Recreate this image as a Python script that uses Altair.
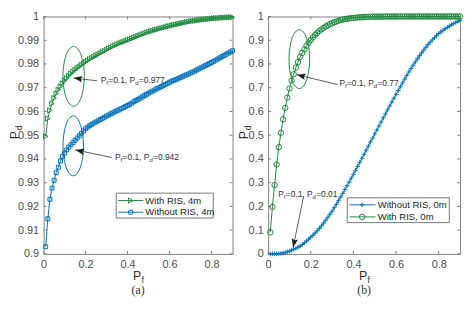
import math
import altair as alt
import pandas as pd

# ---------------- data ----------------
PF = [0.01, 0.02, 0.03, 0.04, 0.05, 0.06, 0.07, 0.08, 0.09, 0.10,
      0.11, 0.12, 0.13, 0.14, 0.15, 0.16, 0.17, 0.18, 0.19, 0.20,
      0.21, 0.22, 0.23, 0.24, 0.25, 0.26, 0.27, 0.28, 0.29, 0.30,
      0.31, 0.32, 0.33, 0.34, 0.35, 0.36, 0.37, 0.38, 0.39, 0.40,
      0.41, 0.42, 0.43, 0.44, 0.45, 0.46, 0.47, 0.48, 0.49, 0.50,
      0.51, 0.52, 0.53, 0.54, 0.55, 0.56, 0.57, 0.58, 0.59, 0.60,
      0.61, 0.62, 0.63, 0.64, 0.65, 0.66, 0.67, 0.68, 0.69, 0.70,
      0.71, 0.72, 0.73, 0.74, 0.75, 0.76, 0.77, 0.78, 0.79, 0.80,
      0.81, 0.82, 0.83, 0.84, 0.85, 0.86, 0.87, 0.88, 0.89, 0.90]

# (a) With RIS, 4m
A_WITH = [0.9495, 0.9570, 0.9605, 0.9633, 0.9656, 0.9675, 0.9691, 0.9705, 0.9718, 0.9730,
          0.9740, 0.9750, 0.9759, 0.9767, 0.9775, 0.9782, 0.9789, 0.9796, 0.9802, 0.9808,
          0.9814, 0.9820, 0.9825, 0.9830, 0.9835, 0.9840, 0.9845, 0.9850, 0.9855, 0.9860,
          0.9865, 0.9869, 0.9874, 0.9878, 0.9882, 0.9886, 0.9890, 0.9893, 0.9897, 0.9900,
          0.9904, 0.9907, 0.9911, 0.9914, 0.9918, 0.9921, 0.9925, 0.9928, 0.9932, 0.9935,
          0.9938, 0.9940, 0.9943, 0.9945, 0.9948, 0.9950, 0.9953, 0.9955, 0.9958, 0.9960,
          0.9962, 0.9964, 0.9966, 0.9968, 0.9970, 0.9972, 0.9974, 0.9976, 0.9978, 0.9980,
          0.9981, 0.9982, 0.9983, 0.9985, 0.9986, 0.9987, 0.9988, 0.9989, 0.9990, 0.9991,
          0.9992, 0.9993, 0.9993, 0.9994, 0.9995, 0.9995, 0.9996, 0.9996, 0.9997, 0.9997]

# (a) Without RIS, 4m
A_WITHOUT = [0.9030, 0.9148, 0.9230, 0.9277, 0.9310, 0.9342, 0.9365, 0.9391, 0.9410, 0.9425,
             0.9438, 0.9450, 0.9460, 0.9469, 0.9478, 0.9488, 0.9498, 0.9508, 0.9518, 0.9527,
             0.9534, 0.9540, 0.9546, 0.9551, 0.9556, 0.9561, 0.9566, 0.9571, 0.9576, 0.9581,
             0.9585, 0.9590, 0.9594, 0.9599, 0.9603, 0.9607, 0.9612, 0.9616, 0.9621, 0.9625,
             0.9630, 0.9635, 0.9641, 0.9646, 0.9651, 0.9656, 0.9661, 0.9667, 0.9672, 0.9677,
             0.9682, 0.9686, 0.9691, 0.9696, 0.9700, 0.9705, 0.9709, 0.9714, 0.9718, 0.9723,
             0.9727, 0.9731, 0.9734, 0.9738, 0.9742, 0.9746, 0.9750, 0.9754, 0.9758, 0.9762,
             0.9766, 0.9770, 0.9775, 0.9779, 0.9784, 0.9788, 0.9793, 0.9797, 0.9802, 0.9806,
             0.9811, 0.9816, 0.9821, 0.9826, 0.9831, 0.9836, 0.9841, 0.9846, 0.9851, 0.9856]

# (b) With RIS, 0m
B_WITH = [0.091, 0.198, 0.290, 0.377, 0.450, 0.510, 0.567, 0.615, 0.658, 0.697,
          0.730, 0.757, 0.785, 0.808, 0.830, 0.847, 0.862, 0.877, 0.890, 0.901,
          0.912, 0.922, 0.931, 0.939, 0.946, 0.952, 0.958, 0.963, 0.968, 0.972,
          0.976, 0.979, 0.982, 0.985, 0.987, 0.989, 0.990, 0.992, 0.993, 0.994,
          0.995, 0.996, 0.9965, 0.997, 0.9975, 0.998, 0.9985, 0.9988, 0.999, 0.9992,
          0.9994, 0.9995, 0.9996, 0.9997, 0.9997, 0.9998, 0.9998, 0.9998, 0.9999, 0.9999,
          0.9999, 0.9999, 0.9999, 0.9999, 1.0, 1.0, 1.0, 1.0, 1.0, 1.0,
          1.0, 1.0, 1.0, 1.0, 1.0, 1.0, 1.0, 1.0, 1.0, 1.0,
          1.0, 1.0, 1.0, 1.0, 1.0, 1.0, 1.0, 1.0, 1.0, 1.0]

# (b) Without RIS, 0m
B_WITHOUT = [0.0000, 0.0001, 0.0003, 0.0007, 0.0013, 0.0022, 0.0035, 0.0055, 0.0085, 0.0120,
             0.0155, 0.0195, 0.0235, 0.0280, 0.0330, 0.0395, 0.0465, 0.0540, 0.0620, 0.0700,
             0.0790, 0.0880, 0.0975, 0.1075, 0.1180, 0.1300, 0.1420, 0.1540, 0.1670, 0.1800,
             0.1945, 0.2090, 0.2240, 0.2395, 0.2550, 0.2710, 0.2870, 0.3030, 0.3190, 0.3350,
             0.3520, 0.3690, 0.3860, 0.4030, 0.4200, 0.4370, 0.4540, 0.4710, 0.4880, 0.5050,
             0.5220, 0.5390, 0.5560, 0.5730, 0.5900, 0.6065, 0.6230, 0.6395, 0.6560, 0.6720,
             0.6880, 0.7040, 0.7200, 0.7360, 0.7520, 0.7665, 0.7810, 0.7950, 0.8085, 0.8220,
             0.8345, 0.8470, 0.8590, 0.8705, 0.8820, 0.8920, 0.9015, 0.9105, 0.9195, 0.9280,
             0.9350, 0.9415, 0.9480, 0.9540, 0.9600, 0.9650, 0.9700, 0.9750, 0.9795, 0.9840]

X_TICKS = [0, 0.2, 0.4, 0.6, 0.8]
A_YTICKS = [0.9, 0.91, 0.92, 0.93, 0.94, 0.95, 0.96, 0.97, 0.98, 0.99, 1.0]
B_YTICKS = [0, 0.1, 0.2, 0.3, 0.4, 0.5, 0.6, 0.7, 0.8, 0.9, 1.0]

A_LABELS = ["With RIS, 4m", "Without RIS, 4m"]
B_LABELS = ["Without RIS, 0m", "With RIS, 0m"]
A_NOTES = [("0.1", "0.977"), ("0.1", "0.942")]
B_NOTES = [("0.1", "0.77"), ("0.1", "0.01")]

# ---------------- style ----------------
GREEN = "#1b8c3c"
BLUE = "#0072bd"
FONT = "Liberation Sans"
SERIF = "Liberation Serif"
TXT = "#333333"
AXC = "#4d4d4d"
FRAME = "#808080"

PLUS = "M-1,0L1,0M0,-1L0,1"
HEAD = "M0,0L-0.36,1L0,0.8L0.36,1Z"
HEAD_SIZE = 324

CW = {"P": 0.667, "f": 0.278, "d": 0.556, "=": 0.584, ".": 0.278, ",": 0.278, " ": 0.278}


def tw(s, fs):
    return sum(CW.get(c, 0.556) for c in s) * fs


def ellipse_path(a):
    k = 0.5523
    return (f"M0,-1C{k*a:.4f},-1,{a:.4f},{-k:.4f},{a:.4f},0"
            f"C{a:.4f},{k:.4f},{k*a:.4f},1,0,1"
            f"C{-k*a:.4f},1,{-a:.4f},{k:.4f},{-a:.4f},0"
            f"C{-a:.4f},{-k:.4f},{-k*a:.4f},-1,0,-1Z")


def build(W, H, ydom, yticks, series, ells, arrows, notes, legend, ytx, cap):
    xs = alt.Scale(domain=[0, 0.9], nice=False, zero=False)
    ys = alt.Scale(domain=ydom, nice=False, zero=False)
    sx = W / 0.9
    sy = H / (ydom[1] - ydom[0])

    xaxis = alt.Axis(values=X_TICKS, format="~g", grid=False, ticks=False, domain=False,
                     labelFont=FONT, labelFontSize=11, labelColor=AXC, labelPadding=5,
                     title=None, labelFlush=False)
    yaxis = alt.Axis(values=yticks, format="~g", grid=False, ticks=False, domain=False,
                     labelFont=FONT, labelFontSize=11, labelColor=AXC, labelPadding=5,
                     title=None, labelFlush=False)

    def X(f):
        return alt.X(f, type="quantitative", scale=xs, axis=xaxis)

    def Y(f):
        return alt.Y(f, type="quantitative", scale=ys, axis=yaxis)

    def pt(x, y):
        return pd.DataFrame({"x": [x], "y": [y]})

    one = pd.DataFrame({"k": [0]})
    layers = []

    # inward ticks on all four sides
    xt = pd.DataFrame({"v": X_TICKS})
    yt = pd.DataFrame({"v": yticks})
    layers.append(alt.Chart(xt).mark_rule(color=FRAME, strokeWidth=1).encode(
        x=X("v"), y=alt.value(H), y2=alt.value(H - 3)))
    layers.append(alt.Chart(xt).mark_rule(color=FRAME, strokeWidth=1).encode(
        x=X("v"), y=alt.value(0), y2=alt.value(3)))
    layers.append(alt.Chart(yt).mark_rule(color=FRAME, strokeWidth=1).encode(
        y=Y("v"), x=alt.value(0), x2=alt.value(3)))
    layers.append(alt.Chart(yt).mark_rule(color=FRAME, strokeWidth=1).encode(
        y=Y("v"), x=alt.value(W), x2=alt.value(W - 3)))

    # data series
    for s in series:
        df = pd.DataFrame({"pf": PF, "pd": s["vals"]})
        layers.append(alt.Chart(df).mark_line(color=s["color"], strokeWidth=1).encode(
            x=X("pf"), y=Y("pd")))
        layers.append(alt.Chart(df).mark_point(shape=s["shape"], size=s["size"], color=s["color"],
                                               filled=False, strokeWidth=1, opacity=1).encode(
            x=X("pf"), y=Y("pd")))

    # ellipses
    for (cx, cy, rxd, ryd, col) in ells:
        rx = rxd * sx
        ry = ryd * sy
        layers.append(alt.Chart(pt(cx, cy)).mark_point(
            shape=ellipse_path(rx / ry), size=(2 * ry) ** 2, filled=False, color=col,
            strokeWidth=1, opacity=1).encode(x=X("x"), y=Y("y")))

    # arrows
    for (tx, ty, hx, hy) in arrows:
        df = pd.DataFrame({"x": [tx], "y": [ty], "x2": [hx], "y2": [hy]})
        layers.append(alt.Chart(df).mark_rule(color="#333333", strokeWidth=0.8).encode(
            x=X("x"), y=Y("y"), x2="x2", y2="y2"))
        ang = math.degrees(math.atan2((hx - tx) * sx, (hy - ty) * sy)) % 360
        layers.append(alt.Chart(pt(hx, hy)).mark_point(
            shape=HEAD, size=HEAD_SIZE, filled=True, color="#1a1a1a", angle=ang,
            strokeWidth=0, opacity=1).encode(x=X("x"), y=Y("y")))

    # annotation texts with subscripts
    for (nx, ny, (vf, vd)) in notes:
        fs, ss = 8.5, 6.0
        parts = [("P", False), ("f", True), ("=" + vf + ", P", False), ("d", True), ("=" + vd, False)]
        off = 0.0
        for (t, sub) in parts:
            f = ss if sub else fs
            layers.append(alt.Chart(pt(nx, ny)).mark_text(
                text=t, align="left", baseline="middle", dx=off, dy=3 if sub else 0,
                font=FONT, fontSize=f, color=TXT).encode(x=X("x"), y=Y("y")))
            off += tw(t, f) + (0.3 if sub else 0)

    # legend
    (bx0, bx1, by0, by1) = legend["box"]
    layers.append(alt.Chart(pd.DataFrame({"x": [bx0], "x2": [bx1], "y": [by0], "y2": [by1]})).mark_rect(
        fill="white", stroke="#555555", strokeWidth=0.8).encode(x=X("x"), x2="x2", y=Y("y"), y2="y2"))
    lx0, lx1, lm, ltx = legend["xs"]
    for (ry_, s, lab) in zip(legend["rows"], legend["series"], legend["labels"]):
        layers.append(alt.Chart(pd.DataFrame({"x": [lx0], "x2": [lx1], "y": [ry_]})).mark_rule(
            color=s["color"], strokeWidth=1).encode(x=X("x"), x2="x2", y=Y("y")))
        layers.append(alt.Chart(pt(lm, ry_)).mark_point(
            shape=s["shape"], size=s["size"], color=s["color"], filled=False, strokeWidth=1,
            opacity=1).encode(x=X("x"), y=Y("y")))
        layers.append(alt.Chart(pt(ltx, ry_)).mark_text(
            text=lab, align="left", baseline="middle", font=FONT, fontSize=9.6, color="#222222").encode(
            x=X("x"), y=Y("y")))

    # axis titles with subscripts, caption
    layers.append(alt.Chart(one).mark_text(text="P", align="center", baseline="middle", angle=270,
                                           font=FONT, fontSize=12.5, color=TXT).encode(
        x=alt.value(ytx), y=alt.value(H / 2)))
    layers.append(alt.Chart(one).mark_text(text="d", align="center", baseline="middle", angle=270,
                                           font=FONT, fontSize=9, color=TXT).encode(
        x=alt.value(ytx + 4), y=alt.value(H / 2 - 7.5)))
    layers.append(alt.Chart(one).mark_text(text="P", align="center", baseline="middle",
                                           font=FONT, fontSize=12.5, color=TXT).encode(
        x=alt.value(W / 2 - 1), y=alt.value(H + 22)))
    layers.append(alt.Chart(one).mark_text(text="f", align="left", baseline="middle",
                                           font=FONT, fontSize=9, color=TXT).encode(
        x=alt.value(W / 2 + 3.5), y=alt.value(H + 26)))
    layers.append(alt.Chart(one).mark_text(text=cap, align="center", baseline="middle",
                                           font=SERIF, fontSize=12, color=TXT).encode(
        x=alt.value(W / 2), y=alt.value(H + 37)))

    return alt.layer(*layers).properties(width=W, height=H)


sA_with = {"vals": A_WITH, "color": GREEN, "shape": "triangle-right", "size": 28}
sA_without = {"vals": A_WITHOUT, "color": BLUE, "shape": "square", "size": 16}
sB_with = {"vals": B_WITH, "color": GREEN, "shape": "circle", "size": 30}
sB_without = {"vals": B_WITHOUT, "color": BLUE, "shape": PLUS, "size": 22}

H = 240
panel_a = build(
    191, H, [0.9, 1.0], A_YTICKS,
    [sA_without, sA_with],
    [(0.143, 0.9748, 0.0508, 0.0126, GREEN), (0.141, 0.9455, 0.0485, 0.0126, BLUE)],
    [(0.254, 0.9729, 0.143, 0.9741), (0.3245, 0.9406, 0.152, 0.9438)],
    [(0.272, 0.9733, A_NOTES[0]), (0.34, 0.941, A_NOTES[1])],
    {"box": (0.346, 0.808, 0.9151, 0.9256), "xs": (0.355, 0.475, 0.415, 0.4845),
     "rows": [0.92248, 0.91756], "series": [sA_with, sA_without], "labels": A_LABELS},
    -29, "(a)")

panel_b = build(
    194, H, [0.0, 1.0], B_YTICKS,
    [sB_without, sB_with],
    [(0.1462, 0.8205, 0.0483, 0.124, GREEN)],
    [(0.3264, 0.7132, 0.1347, 0.7547), (0.1655, 0.2403, 0.117, 0.0271)],
    [(0.334, 0.7198, B_NOTES[0]), (0.047, 0.2508, B_NOTES[1])],
    {"box": (0.371, 0.8497, 0.1318, 0.2364), "xs": (0.3816, 0.5039, 0.4405, 0.5136),
     "rows": [0.2066, 0.1558], "series": [sB_without, sB_with], "labels": B_LABELS},
    -24, "(b)")

chart = alt.hconcat(panel_a, panel_b, spacing=0).properties(
    padding={"left": 0, "top": 0, "right": 0, "bottom": 0}
).configure(padding={"left": 0, "top": 0, "right": 0, "bottom": 0}).configure_view(
    stroke=FRAME, strokeWidth=1)

chart.save("out.html", embed_options={"renderer": "svg", "actions": False})
